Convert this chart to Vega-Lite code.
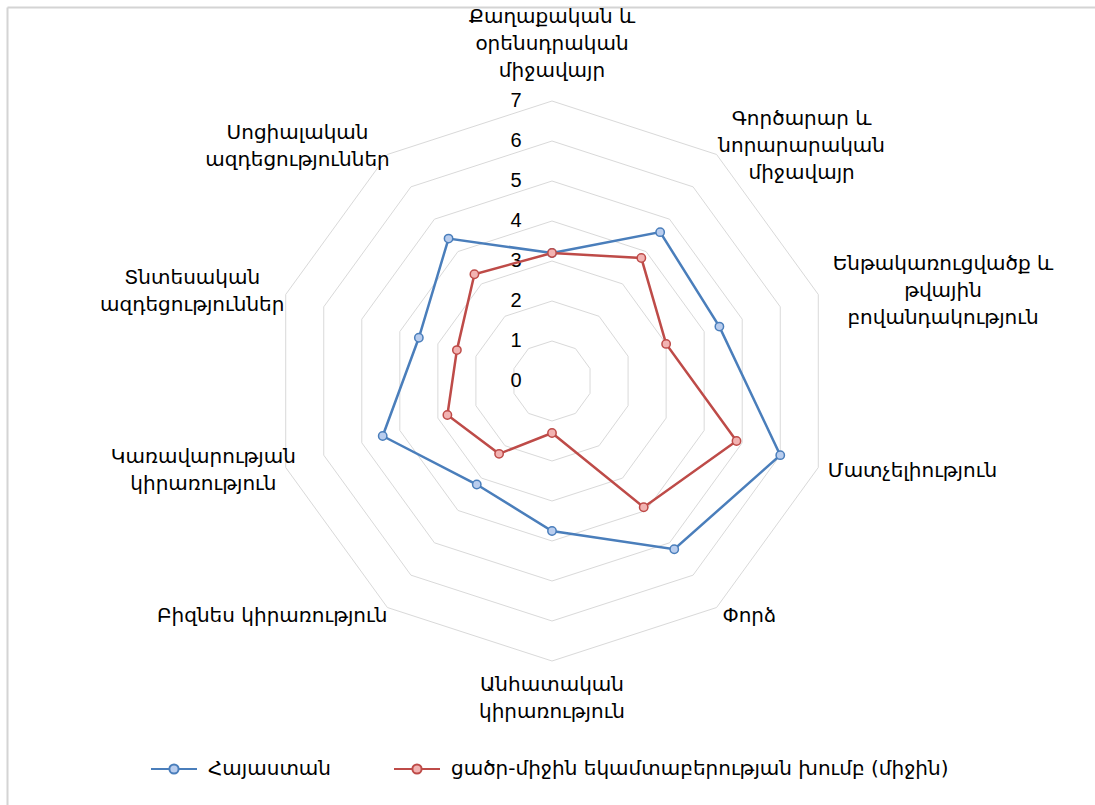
{
  "$schema": "https://vega.github.io/schema/vega-lite/v6.json",
  "width": 1088,
  "height": 798,
  "padding": {"left": 7, "top": 7, "right": 0, "bottom": 0},
  "autosize": {"type": "none"},
  "background": "white",
  "config": {"view": {"stroke": null}, "font": "DejaVu Sans"},
  "datasets": {
    "axes": [
      {"k": 0, "label": "Քաղաքական և\nօրենսդրական\nմիջավայր"},
      {"k": 1, "label": "Գործարար և\nնորարարական\nմիջավայր"},
      {"k": 2, "label": "Ենթակառուցվածք և\nթվային\nբովանդակություն"},
      {"k": 3, "label": "Մատչելիություն"},
      {"k": 4, "label": "Փորձ"},
      {"k": 5, "label": "Անհատական\nկիրառություն"},
      {"k": 6, "label": "Բիզնես կիրառություն"},
      {"k": 7, "label": "Կառավարության\nկիրառություն"},
      {"k": 8, "label": "Տնտեսական\nազդեցություններ"},
      {"k": 9, "label": "Սոցիալական\nազդեցություններ"}
    ],
    "scores": [
      {"k": 0, "series": "Հայաստան", "value": 3.2},
      {"k": 1, "series": "Հայաստան", "value": 4.6},
      {"k": 2, "series": "Հայաստան", "value": 4.4},
      {"k": 3, "series": "Հայաստան", "value": 6.0},
      {"k": 4, "series": "Հայաստան", "value": 5.2},
      {"k": 5, "series": "Հայաստան", "value": 3.75},
      {"k": 6, "series": "Հայաստան", "value": 3.2},
      {"k": 7, "series": "Հայաստան", "value": 4.45},
      {"k": 8, "series": "Հայաստան", "value": 3.5},
      {"k": 9, "series": "Հայաստան", "value": 4.4},
      {"k": 0, "series": "ցածր-միջին եկամտաբերության խումբ (միջին)", "value": 3.2},
      {"k": 1, "series": "ցածր-միջին եկամտաբերության խումբ (միջին)", "value": 3.8},
      {"k": 2, "series": "ցածր-միջին եկամտաբերության խումբ (միջին)", "value": 3.0},
      {"k": 3, "series": "ցածր-միջին եկամտաբերության խումբ (միջին)", "value": 4.85},
      {"k": 4, "series": "ցածր-միջին եկամտաբերության խումբ (միջին)", "value": 3.9},
      {"k": 5, "series": "ցածր-միջին եկամտաբերության խումբ (միջին)", "value": 1.3},
      {"k": 6, "series": "ցածր-միջին եկամտաբերության խումբ (միջին)", "value": 2.25},
      {"k": 7, "series": "ցածր-միջին եկամտաբերության խումբ (միջին)", "value": 2.75},
      {"k": 8, "series": "ցածր-միջին եկամտաբերության խումբ (միջին)", "value": 2.5},
      {"k": 9, "series": "ցածր-միջին եկամտաբերության խումբ (միջին)", "value": 3.3}
    ],
    "ticks": [{"v": 0}, {"v": 1}, {"v": 2}, {"v": 3}, {"v": 4}, {"v": 5}, {"v": 6}, {"v": 7}],
    "grid": [
      {"lv":1,"k":0},{"lv":1,"k":1},{"lv":1,"k":2},{"lv":1,"k":3},{"lv":1,"k":4},{"lv":1,"k":5},{"lv":1,"k":6},{"lv":1,"k":7},{"lv":1,"k":8},{"lv":1,"k":9},
      {"lv":2,"k":0},{"lv":2,"k":1},{"lv":2,"k":2},{"lv":2,"k":3},{"lv":2,"k":4},{"lv":2,"k":5},{"lv":2,"k":6},{"lv":2,"k":7},{"lv":2,"k":8},{"lv":2,"k":9},
      {"lv":3,"k":0},{"lv":3,"k":1},{"lv":3,"k":2},{"lv":3,"k":3},{"lv":3,"k":4},{"lv":3,"k":5},{"lv":3,"k":6},{"lv":3,"k":7},{"lv":3,"k":8},{"lv":3,"k":9},
      {"lv":4,"k":0},{"lv":4,"k":1},{"lv":4,"k":2},{"lv":4,"k":3},{"lv":4,"k":4},{"lv":4,"k":5},{"lv":4,"k":6},{"lv":4,"k":7},{"lv":4,"k":8},{"lv":4,"k":9},
      {"lv":5,"k":0},{"lv":5,"k":1},{"lv":5,"k":2},{"lv":5,"k":3},{"lv":5,"k":4},{"lv":5,"k":5},{"lv":5,"k":6},{"lv":5,"k":7},{"lv":5,"k":8},{"lv":5,"k":9},
      {"lv":6,"k":0},{"lv":6,"k":1},{"lv":6,"k":2},{"lv":6,"k":3},{"lv":6,"k":4},{"lv":6,"k":5},{"lv":6,"k":6},{"lv":6,"k":7},{"lv":6,"k":8},{"lv":6,"k":9},
      {"lv":7,"k":0},{"lv":7,"k":1},{"lv":7,"k":2},{"lv":7,"k":3},{"lv":7,"k":4},{"lv":7,"k":5},{"lv":7,"k":6},{"lv":7,"k":7},{"lv":7,"k":8},{"lv":7,"k":9}
    ]
  },
  "encoding": {
    "x": {"field": "x", "type": "quantitative", "scale": {"domain": [-13.625, 13.575], "nice": false, "zero": false},
      "axis": {"orient": "top", "domain": true, "domainColor": "#d4d4d4", "domainWidth": 2, "ticks": false, "labels": false, "grid": false, "title": null}},
    "y": {"field": "y", "type": "quantitative", "scale": {"domain": [-10.6, 9.35], "nice": false, "zero": false},
      "axis": {"orient": "left", "domain": true, "domainColor": "#d4d4d4", "domainWidth": 2, "ticks": false, "labels": false, "grid": false, "title": null}}
  },
  "layer": [
    {
      "data": {"name": "grid"},
      "transform": [
        {"calculate": "datum.lv * sin(datum.k * PI / 5)", "as": "x"},
        {"calculate": "datum.lv * cos(datum.k * PI / 5)", "as": "y"}
      ],
      "mark": {"type": "line", "interpolate": "linear-closed", "stroke": "#d9d9d9", "strokeWidth": 1},
      "encoding": {
        "detail": {"field": "lv", "type": "nominal"},
        "order": {"field": "k", "type": "quantitative"}
      }
    },
    {
      "data": {"name": "ticks"},
      "transform": [
        {"calculate": "0", "as": "x"},
        {"calculate": "datum.v", "as": "y"}
      ],
      "mark": {"type": "text", "dx": -36, "align": "center", "baseline": "middle", "font": "Liberation Sans", "fontSize": 20, "color": "#000000"},
      "encoding": {"text": {"field": "v", "type": "quantitative"}}
    },
    {
      "data": {"name": "axes"},
      "transform": [
        {"filter": "datum.k == 3 || datum.k == 4"},
        {"calculate": "7.25 * sin(datum.k * PI / 5)", "as": "x"},
        {"calculate": "7.25 * cos(datum.k * PI / 5)", "as": "y"}
      ],
      "mark": {"type": "text", "align": "left", "baseline": "middle", "fontSize": 20, "color": "#000000"},
      "encoding": {"text": {"field": "label", "type": "nominal"}}
    },
    {
      "data": {"name": "axes"},
      "transform": [
        {"filter": "datum.k == 6"},
        {"calculate": "7.0 * sin(datum.k * PI / 5)", "as": "x"},
        {"calculate": "7.25 * cos(datum.k * PI / 5)", "as": "y"}
      ],
      "mark": {"type": "text", "align": "right", "baseline": "middle", "fontSize": 20, "color": "#000000"},
      "encoding": {"text": {"field": "label", "type": "nominal"}}
    },
    {
      "data": {"name": "axes"},
      "transform": [
        {"filter": "datum.k == 1 || datum.k == 2 || datum.k >= 7"},
        {"calculate": "split(datum.label, '\\n')", "as": "lines"},
        {"calculate": "max(length(datum.lines[0]), length(datum.lines[1] || ''), length(datum.lines[2] || ''))", "as": "maxlen"},
        {"calculate": "7.25 * sin(datum.k * PI / 5) + (sin(datum.k * PI / 5) > 0 ? 0.18 : -0.14) * datum.maxlen", "as": "x"},
        {"calculate": "7.25 * cos(datum.k * PI / 5) + (length(datum.lines) - 1) * 0.3375", "as": "y"}
      ],
      "mark": {"type": "text", "align": "center", "baseline": "middle", "lineBreak": "\n", "fontSize": 20, "lineHeight": 27, "color": "#000000"},
      "encoding": {"text": {"field": "label", "type": "nominal"}}
    },
    {
      "data": {"name": "axes"},
      "transform": [
        {"filter": "datum.k == 0"},
        {"calculate": "7.5 * sin(datum.k * PI / 5)", "as": "x"},
        {"calculate": "7.5 * cos(datum.k * PI / 5) + (length(split(datum.label, '\\n')) - 1) * 0.675", "as": "y"}
      ],
      "mark": {"type": "text", "align": "center", "baseline": "bottom", "lineBreak": "\n", "fontSize": 20, "lineHeight": 27, "color": "#000000"},
      "encoding": {"text": {"field": "label", "type": "nominal"}}
    },
    {
      "data": {"name": "axes"},
      "transform": [
        {"filter": "datum.k == 5"},
        {"calculate": "7.35 * sin(datum.k * PI / 5)", "as": "x"},
        {"calculate": "7.35 * cos(datum.k * PI / 5)", "as": "y"}
      ],
      "mark": {"type": "text", "align": "center", "baseline": "top", "lineBreak": "\n", "fontSize": 20, "lineHeight": 27, "color": "#000000"},
      "encoding": {"text": {"field": "label", "type": "nominal"}}
    },
    {
      "data": {"name": "scores"},
      "transform": [
        {"calculate": "datum.value * sin(datum.k * PI / 5)", "as": "x"},
        {"calculate": "datum.value * cos(datum.k * PI / 5)", "as": "y"}
      ],
      "mark": {"type": "line", "interpolate": "linear-closed", "strokeWidth": 2.5},
      "encoding": {
        "color": {
          "field": "series", "type": "nominal",
          "scale": {"domain": ["Հայաստան", "ցածր-միջին եկամտաբերության խումբ (միջին)"], "range": ["#4a7ebb", "#be4b48"]},
          "legend": {
            "orient": "none", "legendX": 143, "legendY": 738, "direction": "horizontal", "title": null,
            "symbolType": "M-1,0H-0.2M0.2,0H1M-0.2,0A0.2,0.2,0,1,1,0.2,0A0.2,0.2,0,1,1,-0.2,0Z",
            "symbolSize": 2116, "symbolStrokeWidth": 2,
            "labelFont": "DejaVu Sans", "labelFontSize": 20, "labelColor": "#000000",
            "labelOffset": 10, "columnPadding": 58, "labelLimit": 700,
            "encode": {"symbols": {"update": {"fill": {"signal": "datum.value === 'Հայաստան' ? '#b9cdee' : '#f2b3b2'"}}}}
          }
        },
        "order": {"field": "k", "type": "quantitative"}
      }
    },
    {
      "data": {"name": "scores"},
      "transform": [
        {"calculate": "datum.value * sin(datum.k * PI / 5)", "as": "x"},
        {"calculate": "datum.value * cos(datum.k * PI / 5)", "as": "y"}
      ],
      "mark": {"type": "point", "shape": "circle", "filled": true, "size": 70, "strokeWidth": 1.5, "opacity": 1},
      "encoding": {
        "stroke": {"field": "series", "type": "nominal", "scale": {"domain": ["Հայաստան", "ցածր-միջին եկամտաբերության խումբ (միջին)"], "range": ["#4a7ebb", "#be4b48"]}, "legend": null},
        "fill": {"field": "series", "type": "nominal", "scale": {"domain": ["Հայաստան", "ցածր-միջին եկամտաբերության խումբ (միջին)"], "range": ["#b9cdee", "#f2b3b2"]}, "legend": null}
      }
    }
  ]
}
